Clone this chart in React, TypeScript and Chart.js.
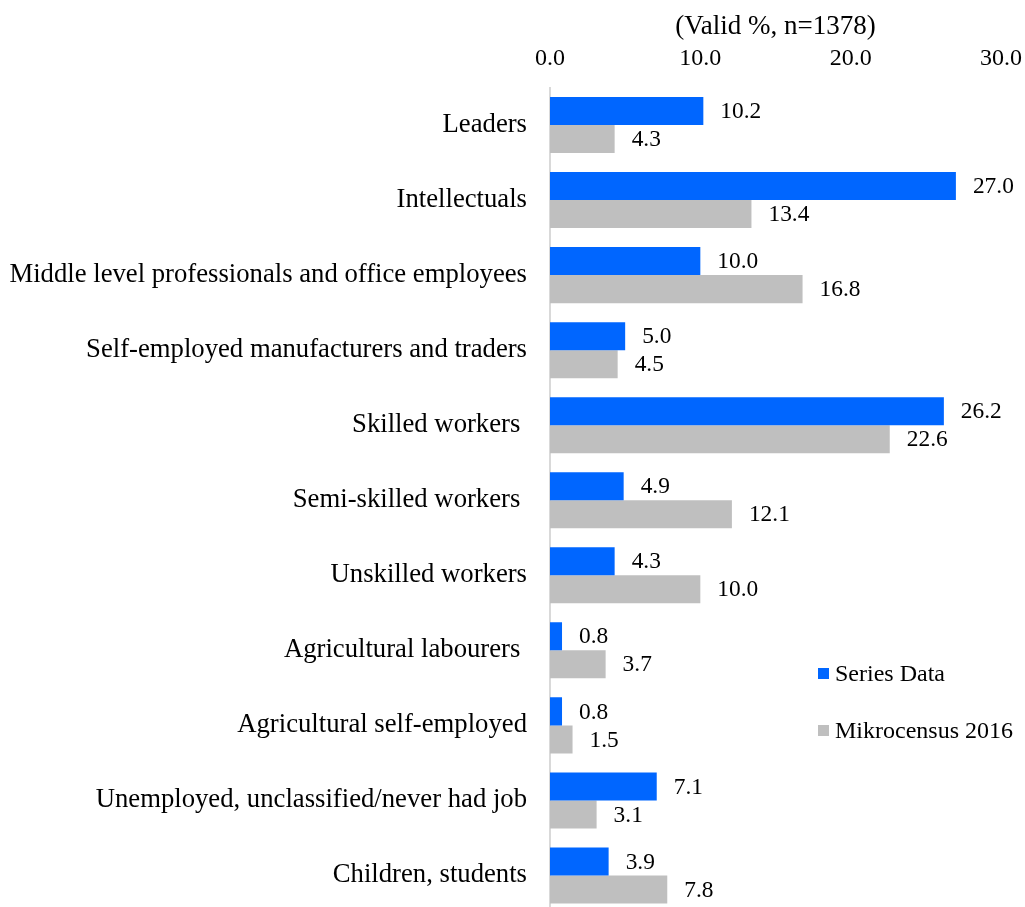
import React, { useEffect, useRef } from "react";
import { Chart, registerables } from "chart.js";

Chart.register(...registerables);

const categories = [
  "Leaders",
  "Intellectuals",
  "Middle level professionals and office employees",
  "Self-employed manufacturers and traders",
  "Skilled workers ",
  "Semi-skilled workers ",
  "Unskilled workers",
  "Agricultural labourers ",
  "Agricultural self-employed",
  "Unemployed, unclassified/never had job",
  "Children, students",
];
const seriesData = [10.2, 27.0, 10.0, 5.0, 26.2, 4.9, 4.3, 0.8, 0.8, 7.1, 3.9];
const mikrocensus = [4.3, 13.4, 16.8, 4.5, 22.6, 12.1, 10.0, 3.7, 1.5, 3.1, 7.8];
const seriesNames = ["Series Data", "Mikrocensus 2016"];
const axisTitle = "(Valid %, n=1378)";
const xTicks = [0, 10, 20, 30];

const BLUE = "#0066FF";
const GRAY = "#BFBFBF";
const FONT = "'Liberation Serif', 'Times New Roman', serif";

export default function App() {
  const ref = useRef<HTMLCanvasElement | null>(null);
  useEffect(() => {
    const canvas = ref.current;
    if (!canvas) return;

    const valueLabels = {
      id: "valueLabels",
      afterDatasetsDraw(chart: any) {
        const ctx = chart.ctx;
        ctx.save();
        ctx.font = `23.4px ${FONT}`;
        ctx.fillStyle = "#000";
        ctx.textAlign = "left";
        ctx.textBaseline = "middle";
        chart.data.datasets.forEach((ds: any, di: number) => {
          const meta = chart.getDatasetMeta(di);
          meta.data.forEach((bar: any, i: number) => {
            ctx.fillText(Number(ds.data[i]).toFixed(1), bar.x + 17, bar.y + 1);
          });
        });
        ctx.restore();
      },
    };

    const legendPlugin = {
      id: "customLegend",
      afterDraw(chart: any) {
        const ctx = chart.ctx;
        ctx.save();
        ctx.font = `24px ${FONT}`;
        ctx.textAlign = "left";
        ctx.textBaseline = "middle";
        const colors = [BLUE, GRAY];
        const ys = [673.5, 730.5];
        seriesNames.forEach((name, i) => {
          ctx.fillStyle = colors[i];
          ctx.fillRect(818, ys[i] - 5.5, 11, 11);
          ctx.fillStyle = "#000";
          ctx.fillText(name, 835, ys[i] + 1);
        });
        ctx.restore();
      },
    };

    const chart = new Chart(canvas, {
      type: "bar",
      data: {
        labels: categories,
        datasets: [
          { label: seriesNames[0], data: seriesData, backgroundColor: BLUE, borderWidth: 0 },
          { label: seriesNames[1], data: mikrocensus, backgroundColor: GRAY, borderWidth: 0 },
        ],
      },
      options: {
        indexAxis: "y",
        responsive: false,
        animation: false,
        layout: { padding: { top: 0, right: 24, bottom: 0, left: 0 } },
        datasets: {
          bar: { categoryPercentage: 56 / 75, barPercentage: 1 },
        },
        plugins: {
          legend: { display: false },
          tooltip: { enabled: false },
          title: { display: false },
        },
        scales: {
          x: {
            position: "top",
            min: 0,
            max: 30,
            afterBuildTicks(scale: any) {
              scale.ticks = xTicks.map((v) => ({ value: v }));
            },
            afterFit(scale: any) {
              scale.height = 87.5;
              scale.paddingLeft = 0;
              scale.paddingRight = 0;
            },
            grid: { display: false, drawTicks: false },
            border: { display: false },
            ticks: {
              padding: 14,
              color: "#000",
              font: { family: FONT, size: 24, lineHeight: 1.2 },
              callback: (v: any) => Number(v).toFixed(1),
            },
            title: {
              display: true,
              text: axisTitle,
              color: "#000",
              font: { family: FONT, size: 27, lineHeight: 1.2 },
              padding: { top: 10.3, bottom: 0 },
            },
          },
          y: {
            afterFit(scale: any) {
              scale.width = 550;
              scale.paddingTop = 0;
              scale.paddingBottom = 0;
            },
            grid: { display: false, drawTicks: false },
            border: { display: true, color: "#D9D9D9", width: 2 },
            ticks: {
              padding: 23,
              color: "#000",
              autoSkip: false,
              font: { family: FONT, size: 26.7, lineHeight: 1.2 },
            },
          },
        },
      },
      plugins: [valueLabels, legendPlugin],
    });
    return () => chart.destroy();
  }, []);

  return (
    <div style={{ position: "fixed", top: 0, left: 0, width: 1025, height: 913, background: "#fff" }}>
      <canvas ref={ref} width={1025} height={913} style={{ display: "block" }} />
    </div>
  );
}
